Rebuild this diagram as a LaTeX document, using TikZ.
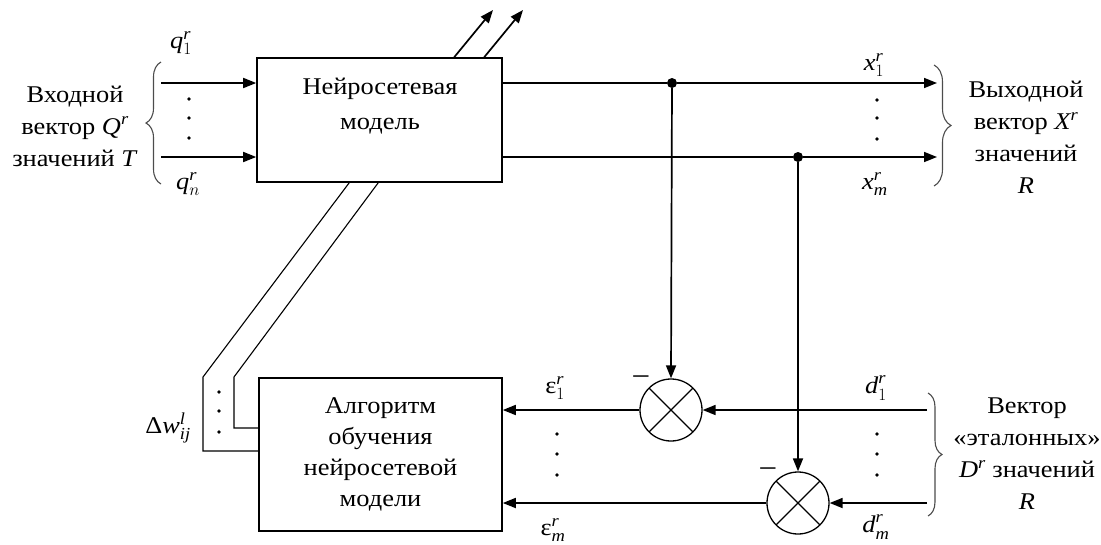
\documentclass[tikz,border=0pt]{standalone}
\usepackage{amsmath}
\usepackage{fontspec}
\setmainfont{Liberation Serif}[FakeStretch=1.1]
\usetikzlibrary{arrows.meta,decorations.pathreplacing,calc}

% italic symbol with subscript and superscript
\newcommand\symsub[3]{$\textit{#1}_{#2}^{\textit{#3}}$}

\begin{document}
\begin{tikzpicture}[x=1pt,y=-1pt,
  font=\fontsize{24}{32}\selectfont,
  wire/.style={line width=1.7pt},
  arr/.style={wire,-{Triangle[length=13pt,width=10pt]}},
  blk/.style={draw,line width=1.6pt,inner sep=0pt},
  junc/.style={circle,fill,inner sep=0pt,minimum size=10pt},
  sumnode/.style={circle,draw,line width=1.3pt,inner sep=0pt,minimum size=62pt,
    path picture={\draw[line width=1.2pt]
      (path picture bounding box.north west) -- (path picture bounding box.south east)
      (path picture bounding box.south west) -- (path picture bounding box.north east);}},
  lab/.style={inner sep=0pt},
  brc/.style={decorate,decoration={brace,amplitude=#1},line width=1.1pt,draw=black!70},
  bus/.style={line width=1.1pt},
  txt/.style={align=center,inner sep=0pt}
]
\useasboundingbox (0,0) rectangle (1101,544);

% blocks
\node[blk,minimum width=245pt,minimum height=124pt] (net) at (379.5,120) {};
\node[txt,font=\fontsize{24}{35}\selectfont] (nettxt) at (380,106) {Нейросетевая\\модель};
\node[blk,minimum width=243pt,minimum height=153pt,align=center,
      font=\fontsize{24}{31}\selectfont] (alg) at (380.5,454.5)
      {Алгоритм\\обучения\\нейросетевой\\модели};

% comparators
\node[sumnode] (s1) at (671,410) {};
\node[sumnode] (s2) at (798,503) {};
\node[lab,font=\fontsize{30}{30}\selectfont] (m1) at (641,381) {−};
\node[lab,font=\fontsize{30}{30}\selectfont] (m2) at (768,473) {−};

% junctions
\node[junc] (j1) at (672,83) {};
\node[junc] (j2) at (798,157) {};

% free ends
\coordinate (in1) at (161,83);
\coordinate (in2) at (161,157);
\coordinate (out1) at (937,83);
\coordinate (out2) at (937,157);
\coordinate (d1) at (927,410);
\coordinate (d2) at (927,503);

% inputs and outputs of the network model
\draw[arr] (in1) -- (in1 -| net.west);
\draw[arr] (in2) -- (in2 -| net.west);
\draw[wire] (net.east |- j1) -- (j1);
\draw[arr] (j1) -- (out1);
\draw[wire] (net.east |- j2) -- (j2);
\draw[arr] (j2) -- (out2);

% feedback to comparators
\draw[arr] (j1) -- (s1.north);
\draw[arr] (j2) -- (s2.north);
\draw[arr] (d1) -- (s1.east);
\draw[arr] (d2) -- (s2.east);
\draw[arr] (s1.west) -- (s1.west -| alg.east);
\draw[arr] (s2.west) -- (s2.west -| alg.east);

% weight corrections
\coordinate (w1) at ([xshift=93pt]net.south west);
\coordinate (w2) at ([xshift=122pt]net.south west);
\coordinate (wa) at (203,377);
\coordinate (wb) at (234,377);
\draw[bus] (w1) -- (wa) -- (wa |- 0,451) -- (alg.west |- 0,451);
\draw[bus] (w2) -- (wb) -- (wb |- 0,428) -- (alg.west |- 0,428);
\coordinate (u1) at (493,10);
\coordinate (u2) at (523,10);
\draw[arr] ([xshift=198pt]net.north west) -- (u1);
\draw[arr] ([xshift=228pt]net.north west) -- (u2);

% ellipsis dots
\foreach \x/\ya/\yb/\yc in {189/99/118/138, 877/100/118/139, 219/392/411/432,
                            557/434/454/475, 877/434/454/475}
  \foreach \y in {\ya,\yb,\yc} \fill (\x,\y) circle (1.8pt);

% signal labels
\node[lab] (q1) at (181,43) {\symsub{q}{1}{r}};
\node[lab] (qn) at (188,184) {\symsub{q}{n}{r}};
\node[lab] (x1) at (874,65) {\symsub{x}{1}{r}};
\node[lab] (xm) at (875,184) {\symsub{x}{\textit{m}}{r}};
\node[lab] (e1) at (555,388) {$\text{ε}_{1}^{\textit{r}}$};
\node[lab] (em) at (553,530) {$\text{ε}_{\textit{m}}^{\textit{r}}$};
\node[lab] (dd1) at (876,388) {\symsub{d}{1}{r}};
\node[lab] (ddm) at (876,527) {\symsub{d}{\textit{m}}{r}};
\node[lab] (dw) at (168,428) {$\text{Δ}\textit{w}_{\textit{ij}}^{\textit{l}}$};

% braces
\draw[brc=15pt] (161,184) -- (161,62);
\draw[brc=17pt] (934,65) -- (934,186);
\draw[brc=14pt] (928,393) -- (928,516);

% vector descriptions
\node[txt] (vin) at (75,126) {Входной\\вектор $\textit{Q}^{\textit{r}}$\\значений \textit{T}};
\node[txt] (vout) at (1026,137) {Выходной\\вектор $\textit{X}^{\textit{r}}$\\значений\\\textit{R}};
\node[txt] (vref) at (1027,454) {Вектор\\«эталонных»\\$\textit{D}^{\textit{r}}$ значений\\\textit{R}};
\end{tikzpicture}
\end{document}
